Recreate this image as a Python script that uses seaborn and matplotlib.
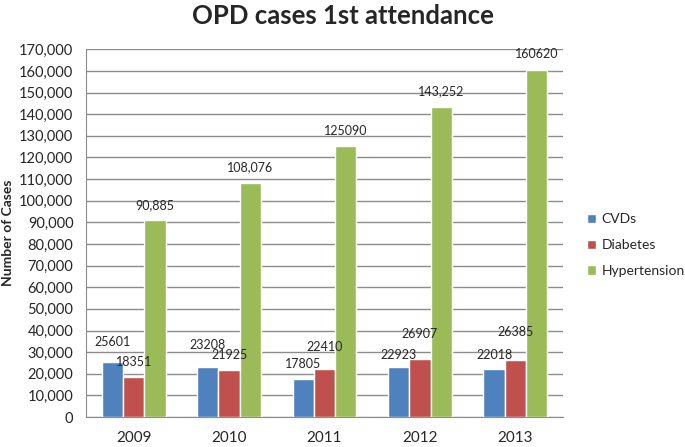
import pandas as pd
import matplotlib.pyplot as plt
import seaborn as sns

years = ["2009", "2010", "2011", "2012", "2013"]
cvds = [25601, 23208, 17805, 22923, 22018]
diabetes = [18351, 21925, 22410, 26907, 26385]
hypertension = [90885, 108076, 125090, 143252, 160620]
series_names = ["CVDs", "Diabetes", "Hypertension"]
# data labels as printed on the chart (mixed formatting in the original)
cvds_labels = ["25601", "23208", "17805", "22923", "22018"]
diabetes_labels = ["18351", "21925", "22410", "26907", "26385"]
hypertension_labels = ["90,885", "108,076", "125090", "143,252", "160620"]
y_ticks = list(range(0, 170001, 10000))

df = pd.DataFrame({
    "year": years * 3,
    "series": [s for s in series_names for _ in years],
    "cases": cvds + diabetes + hypertension,
})

sns.set_style("white")
plt.rcParams["font.family"] = ["Lato", "DejaVu Sans"]

fig = plt.figure(figsize=(6.85, 4.47), dpi=100)
ax = fig.add_axes([0.1255, 0.067, 0.6965, 0.8227])

colors = ["#4F81BD", "#C0504D", "#9BBB59"]
sns.barplot(data=df, x="year", y="cases", hue="series", palette=colors,
            saturation=1, width=0.67, ax=ax, zorder=3)

# label gaps above each bar (points); the original staggers them to avoid clashes
label_gaps = [
    [10, 11.5, 6, 5, 6],
    [6.5, 6, 11.5, 13.5, 16],
    [7, 7, 7, 7, 7],
]
for cont, labs, gaps in zip(ax.containers,
                            [cvds_labels, diabetes_labels, hypertension_labels],
                            label_gaps):
    for bar, lab, gap in zip(cont, labs, gaps):
        ax.annotate(lab, (bar.get_x() + bar.get_width() / 2, bar.get_height()),
                    xytext=(0, gap), textcoords="offset points",
                    ha="center", va="bottom", fontsize=9, zorder=4)

ax.set_ylim(0, 170000)
ax.set_yticks(y_ticks)
ax.set_yticklabels([f"{v:,}" for v in y_ticks], fontsize=10.5)
ax.yaxis.grid(True, color="#8c8c8c", linewidth=1, zorder=0)
ax.set_axisbelow(True)
ax.set_xlim(-0.5, 4.5)
ax.set_xticks([i - 0.5 for i in range(6)], minor=True)
ax.tick_params(axis="x", which="major", length=0, labelsize=11, pad=10)
ax.tick_params(axis="x", which="minor", length=5, color="#8c8c8c", direction="out")
ax.tick_params(axis="y", length=5, color="#8c8c8c", direction="out", pad=4)

for side in ["top", "right"]:
    ax.spines[side].set_visible(False)
for side in ["left", "bottom"]:
    ax.spines[side].set_color("#8c8c8c")

ax.set_xlabel("")
ax.set_ylabel("Number of Cases", fontsize=10, fontweight="bold", labelpad=4)
fig.suptitle("OPD cases 1st attendance", fontsize=18.5, fontweight="bold", y=0.99)

handles, labels = ax.get_legend_handles_labels()
ax.legend(handles, labels, loc="center left", bbox_to_anchor=(1.023, 0.467),
          frameon=False, fontsize=10, handlelength=0.7, handleheight=0.7,
          handletextpad=0.4, labelspacing=1.0)

fig.savefig("out.png", dpi=100)
